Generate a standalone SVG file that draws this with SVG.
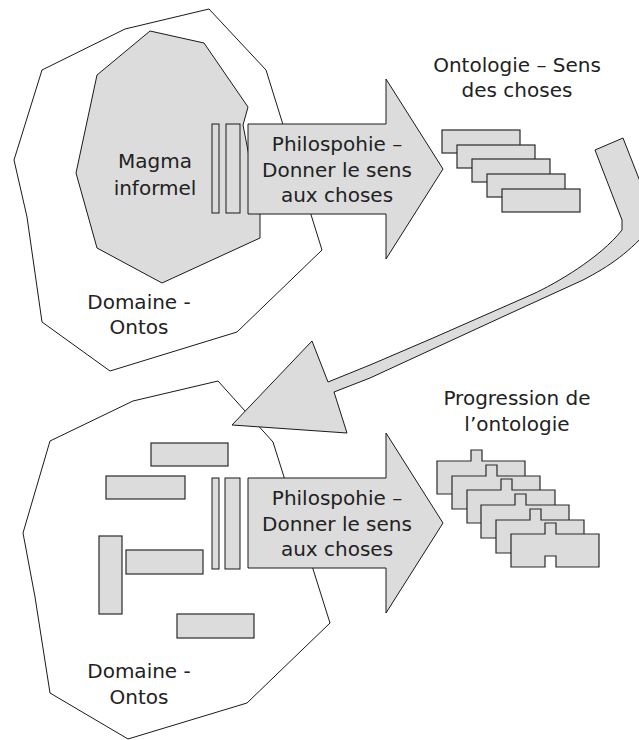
<svg xmlns="http://www.w3.org/2000/svg" width="639" height="740" viewBox="0 0 639 740">
  <style>
    .domain { fill: #ffffff; stroke: #1a1a1a; stroke-width: 1; stroke-linejoin: miter; }
    .shape { fill: #dcdcdc; stroke: #1a1a1a; stroke-width: 1; stroke-linejoin: miter; }
    .box { fill: #dcdcdc; stroke: #2a2a2a; stroke-width: 1.2; }
    .label { font-family: "DejaVu Sans", Verdana, sans-serif; font-size: 20px; fill: #222222; text-anchor: middle; }
  </style>
  <defs>
    <!-- one piece of the evolved ontology: a block with a tab on top and a notch below -->
    <path id="piece" class="box" d="M0,0 H34 V-11 H45 V0 H88 V33 H45 V22 H34 V33 H0 Z"/>
    <rect id="slab" class="box" width="78" height="23"/>
  </defs>

  <!-- upper domain -->
  <g id="domain-top">
    <polygon class="domain" points="209,9 266,70 322,250 237,332 110,371 42,322 27,217 14,160 42,70 125,29"/>
    <text class="label" x="139" y="309">Domaine -</text>
    <text class="label" x="139" y="334">Ontos</text>
  </g>

  <!-- lower domain -->
  <g id="domain-bottom">
    <polygon class="domain" points="218,381 273,442 330,623 247,703 128,739 50,693 35,597 23,533 50,441 133,401"/>
    <text class="label" x="139" y="678">Domaine -</text>
    <text class="label" x="139" y="704">Ontos</text>
  </g>

  <!-- shapeless magma inside the upper domain -->
  <g id="magma">
    <polygon class="shape" points="150,31 204,43 248,107 243,125 260,213 260,238 162,283 97,248 76,173 97,75"/>
    <text class="label" x="155" y="168">Magma</text>
    <text class="label" x="155" y="195">informel</text>
  </g>

  <!-- scattered pieces inside the lower domain -->
  <g id="fragments">
    <rect class="box" x="151" y="443" width="77" height="23"/>
    <rect class="box" x="106" y="476" width="79" height="23"/>
    <rect class="box" x="99" y="536" width="23" height="78"/>
    <rect class="box" x="126" y="550" width="77" height="24"/>
    <rect class="box" x="177" y="614" width="77" height="24"/>
  </g>

  <!-- upper process arrow -->
  <g id="philosophy-top">
    <rect class="shape" x="212" y="124" width="7" height="89"/>
    <rect class="shape" x="226" y="124" width="14" height="89"/>
    <polygon class="shape" points="248,124 386,124 386,79 443,169 386,259 386,214 248,214"/>
    <text class="label" x="337" y="151">Philospohie –</text>
    <text class="label" x="337" y="177">Donner le sens</text>
    <text class="label" x="337" y="202">aux choses</text>
  </g>

  <!-- lower process arrow -->
  <g id="philosophy-bottom">
    <rect class="shape" x="212" y="478" width="7" height="91"/>
    <rect class="shape" x="225" y="478" width="15" height="91"/>
    <polygon class="shape" points="248,478 386,478 386,433 443,523 386,613 386,568 248,568"/>
    <text class="label" x="337" y="505">Philospohie –</text>
    <text class="label" x="337" y="531">Donner le sens</text>
    <text class="label" x="337" y="556">aux choses</text>
  </g>

  <!-- ontology: stacked slabs -->
  <g id="ontology">
    <text class="label" x="517" y="72">Ontologie – Sens</text>
    <text class="label" x="517" y="97">des choses</text>
    <use href="#slab" x="442" y="130"/>
    <use href="#slab" x="457" y="145"/>
    <use href="#slab" x="472" y="159"/>
    <use href="#slab" x="487" y="174"/>
    <use href="#slab" x="502" y="189"/>
  </g>

  <!-- progression: stacked interlocking pieces -->
  <g id="progression">
    <text class="label" x="517" y="405">Progression de</text>
    <text class="label" x="517" y="431">l’ontologie</text>
    <use href="#piece" x="437" y="461"/>
    <use href="#piece" x="452" y="476"/>
    <use href="#piece" x="467" y="490"/>
    <use href="#piece" x="481" y="505"/>
    <use href="#piece" x="496" y="520"/>
    <use href="#piece" x="511" y="534"/>
  </g>

  <!-- connectors -->
  <g id="connectors">
    <!-- curved return arrow from the ontology back to the lower domain -->
    <path class="shape" d="M595,150 L623,138 L652,212 L652,226 C630,252 610,266 583,280 L500,318 L370,378 L334,392 L347,433 L232,425 L312,341 L328,382 L370,365 L433,338 L533,294 C555,284 600,258 622,230 L622,220 Z"/>
  </g>
</svg>
